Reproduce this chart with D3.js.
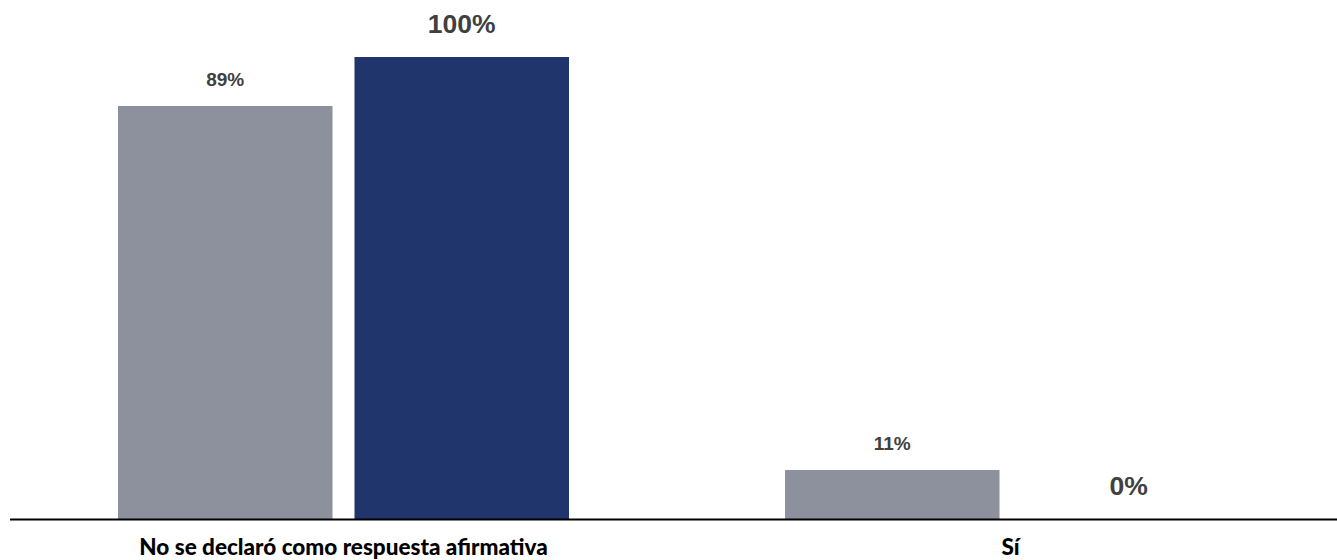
<!DOCTYPE html>
<html>
<head>
<meta charset="utf-8">
<script src="https://cdn.jsdelivr.net/npm/d3@7"></script>
<style>
  html, body { margin: 0; padding: 0; background: #ffffff; }
  svg { display: block; }
</style>
</head>
<body>
<svg id="chart" width="1337" height="560"></svg>
<script>
const categories = ["No se declaró como respuesta afirmativa", "Sí"];
const seriesNames = ["Serie A", "Serie B"];
const seriesA = [89.4, 10.6];
const seriesB = [100, 0];
const seriesColors = ["#8d919d", "#20356c"];
const labelSizes = [19, 26.5];

const W = 1337, H = 560;
const svg = d3.select("#chart");

const x0 = d3.scaleBand().domain(categories).range([10, 1344]).paddingInner(0).paddingOuter(0);
const x1 = d3.scaleBand().domain(seriesNames).range([108, 559]).paddingInner(0.093);
const y = d3.scaleLinear().domain([0, 100]).range([519, 57]);

const rows = categories.map((c, i) => ({
  cat: c,
  vals: [
    { s: seriesNames[0], v: seriesA[i], k: 0 },
    { s: seriesNames[1], v: seriesB[i], k: 1 }
  ]
}));

const fmt = v => d3.format(".0f")(v) + "%";

const g = svg.selectAll("g.grp").data(rows).join("g")
  .attr("class", "grp")
  .attr("transform", d => `translate(${x0(d.cat)},0)`);

g.selectAll("rect").data(d => d.vals).join("rect")
  .attr("x", d => x1(d.s))
  .attr("width", x1.bandwidth())
  .attr("y", d => y(d.v))
  .attr("height", d => y(0) - y(d.v))
  .attr("fill", d => seriesColors[d.k]);

g.selectAll("text.val").data(d => d.vals).join("text")
  .attr("class", "val")
  .attr("x", d => x1(d.s) + x1.bandwidth() / 2)
  .attr("y", d => y(d.v) - (d.k === 0 ? 20 : 24))
  .attr("text-anchor", "middle")
  .attr("font-family", "'Liberation Sans', Arial, sans-serif")
  .attr("font-weight", "bold")
  .attr("font-size", d => labelSizes[d.k])
  .attr("fill", "#404040")
  .text(d => fmt(d.v));

// axis
const axis = d3.axisBottom(x0).tickSize(0).tickSizeOuter(0);
const ax = svg.append("g").attr("transform", "translate(0,519.5)").call(axis);
ax.select(".domain").attr("stroke", "#000").attr("stroke-width", 2)
  .attr("d", "M10,0H1337");
ax.selectAll(".tick text")
  .attr("dy", 0)
  .attr("y", 35.5)
  .attr("font-family", "Lato, sans-serif")
  .attr("font-weight", 900)
  .attr("font-size", 22.5)
  .attr("fill", "#000");
</script>
</body>
</html>
